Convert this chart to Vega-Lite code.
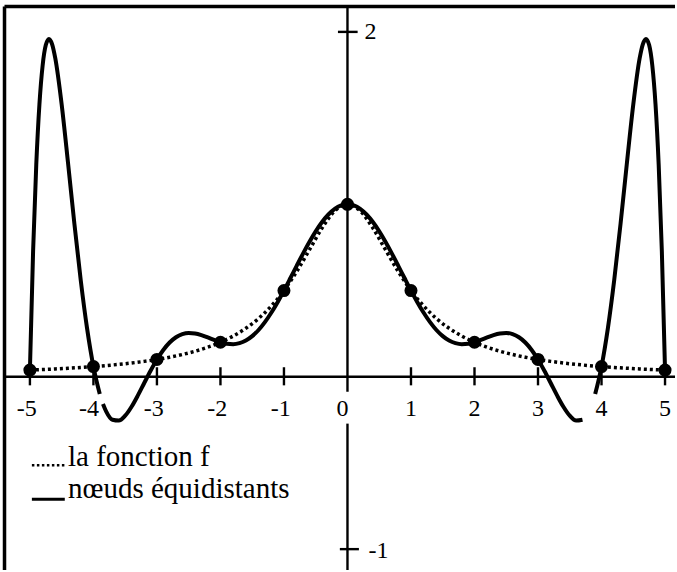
{
  "$schema": "https://vega.github.io/schema/vega-lite/v6.json",
  "width": 677,
  "height": 572,
  "padding": 0,
  "autosize": {"type": "fit", "contains": "padding"},
  "background": "white",
  "config": {"view": {"stroke": null}},
  "datasets": {
    "f": [
      {"x": -5, "y": 0.0385}, {"x": -4.8, "y": 0.0416}, {"x": -4.6, "y": 0.0451}, {"x": -4.4, "y": 0.0491}, {"x": -4.2, "y": 0.0536},
      {"x": -4, "y": 0.0588}, {"x": -3.8, "y": 0.0648}, {"x": -3.6, "y": 0.0716}, {"x": -3.4, "y": 0.0796}, {"x": -3.2, "y": 0.089},
      {"x": -3, "y": 0.1}, {"x": -2.8, "y": 0.1131}, {"x": -2.6, "y": 0.1289}, {"x": -2.4, "y": 0.1479}, {"x": -2.2, "y": 0.1712},
      {"x": -2, "y": 0.2}, {"x": -1.8, "y": 0.2358}, {"x": -1.6, "y": 0.2809}, {"x": -1.4, "y": 0.3378}, {"x": -1.2, "y": 0.4098},
      {"x": -1, "y": 0.5}, {"x": -0.8, "y": 0.6098}, {"x": -0.6, "y": 0.7353}, {"x": -0.4, "y": 0.8621}, {"x": -0.2, "y": 0.9615},
      {"x": 0, "y": 1},
      {"x": 0.2, "y": 0.9615}, {"x": 0.4, "y": 0.8621}, {"x": 0.6, "y": 0.7353}, {"x": 0.8, "y": 0.6098}, {"x": 1, "y": 0.5},
      {"x": 1.2, "y": 0.4098}, {"x": 1.4, "y": 0.3378}, {"x": 1.6, "y": 0.2809}, {"x": 1.8, "y": 0.2358}, {"x": 2, "y": 0.2},
      {"x": 2.2, "y": 0.1712}, {"x": 2.4, "y": 0.1479}, {"x": 2.6, "y": 0.1289}, {"x": 2.8, "y": 0.1131}, {"x": 3, "y": 0.1},
      {"x": 3.2, "y": 0.089}, {"x": 3.4, "y": 0.0796}, {"x": 3.6, "y": 0.0716}, {"x": 3.8, "y": 0.0648}, {"x": 4, "y": 0.0588},
      {"x": 4.2, "y": 0.0536}, {"x": 4.4, "y": 0.0491}, {"x": 4.6, "y": 0.0451}, {"x": 4.8, "y": 0.0416}, {"x": 5, "y": 0.0385}
    ],
    "p": [
      {"seg": "a", "x": -5, "y": 0.0385}, {"seg": "a", "x": -4.95, "y": 0.7261}, {"seg": "a", "x": -4.9, "y": 1.2304},
      {"seg": "a", "x": -4.85, "y": 1.581}, {"seg": "a", "x": -4.8, "y": 1.8044}, {"seg": "a", "x": -4.75, "y": 1.9236},
      {"seg": "a", "x": -4.7, "y": 1.959}, {"seg": "a", "x": -4.65, "y": 1.928}, {"seg": "a", "x": -4.6, "y": 1.8459},
      {"seg": "a", "x": -4.5, "y": 1.5787}, {"seg": "a", "x": -4.4, "y": 1.2402}, {"seg": "a", "x": -4.3, "y": 0.8881},
      {"seg": "a", "x": -4.2, "y": 0.5604}, {"seg": "a", "x": -4.1, "y": 0.2802}, {"seg": "a", "x": -4, "y": 0.0588},
      {"seg": "a", "x": -3.9, "y": -0.1007},
      {"seg": "b", "x": -3.85, "y": -0.158}, {"seg": "b", "x": -3.8, "y": -0.2013}, {"seg": "b", "x": -3.7, "y": -0.2496},
      {"seg": "b", "x": -3.6, "y": -0.2546}, {"seg": "b", "x": -3.5, "y": -0.2262}, {"seg": "b", "x": -3.4, "y": -0.1743},
      {"seg": "b", "x": -3.3, "y": -0.1083}, {"seg": "b", "x": -3.2, "y": -0.0363}, {"seg": "b", "x": -3.1, "y": 0.0349},
      {"seg": "b", "x": -3, "y": 0.1}, {"seg": "b", "x": -2.9, "y": 0.1554}, {"seg": "b", "x": -2.8, "y": 0.1987},
      {"seg": "b", "x": -2.7, "y": 0.2292}, {"seg": "b", "x": -2.6, "y": 0.2472}, {"seg": "b", "x": -2.5, "y": 0.2538},
      {"seg": "b", "x": -2.4, "y": 0.251}, {"seg": "b", "x": -2.3, "y": 0.2415}, {"seg": "b", "x": -2.2, "y": 0.2278},
      {"seg": "b", "x": -2.1, "y": 0.2131}, {"seg": "b", "x": -2, "y": 0.2}, {"seg": "b", "x": -1.9, "y": 0.1912},
      {"seg": "b", "x": -1.8, "y": 0.1888}, {"seg": "b", "x": -1.7, "y": 0.1946}, {"seg": "b", "x": -1.6, "y": 0.2099},
      {"seg": "b", "x": -1.5, "y": 0.2353}, {"seg": "b", "x": -1.4, "y": 0.271}, {"seg": "b", "x": -1.3, "y": 0.3165},
      {"seg": "b", "x": -1.2, "y": 0.3708}, {"seg": "b", "x": -1.1, "y": 0.4326}, {"seg": "b", "x": -1, "y": 0.5},
      {"seg": "b", "x": -0.9, "y": 0.571}, {"seg": "b", "x": -0.8, "y": 0.6432}, {"seg": "b", "x": -0.7, "y": 0.7142},
      {"seg": "b", "x": -0.6, "y": 0.7818}, {"seg": "b", "x": -0.5, "y": 0.8434}, {"seg": "b", "x": -0.4, "y": 0.8971},
      {"seg": "b", "x": -0.3, "y": 0.9409}, {"seg": "b", "x": -0.2, "y": 0.9734}, {"seg": "b", "x": -0.1, "y": 0.9933},
      {"seg": "b", "x": 0, "y": 1},
      {"seg": "b", "x": 0.1, "y": 0.9933}, {"seg": "b", "x": 0.2, "y": 0.9734}, {"seg": "b", "x": 0.3, "y": 0.9409},
      {"seg": "b", "x": 0.4, "y": 0.8971}, {"seg": "b", "x": 0.5, "y": 0.8434}, {"seg": "b", "x": 0.6, "y": 0.7818},
      {"seg": "b", "x": 0.7, "y": 0.7142}, {"seg": "b", "x": 0.8, "y": 0.6432}, {"seg": "b", "x": 0.9, "y": 0.571},
      {"seg": "b", "x": 1, "y": 0.5}, {"seg": "b", "x": 1.1, "y": 0.4326}, {"seg": "b", "x": 1.2, "y": 0.3708},
      {"seg": "b", "x": 1.3, "y": 0.3165}, {"seg": "b", "x": 1.4, "y": 0.271}, {"seg": "b", "x": 1.5, "y": 0.2353},
      {"seg": "b", "x": 1.6, "y": 0.2099}, {"seg": "b", "x": 1.7, "y": 0.1946}, {"seg": "b", "x": 1.8, "y": 0.1888},
      {"seg": "b", "x": 1.9, "y": 0.1912}, {"seg": "b", "x": 2, "y": 0.2}, {"seg": "b", "x": 2.1, "y": 0.2131},
      {"seg": "b", "x": 2.2, "y": 0.2278}, {"seg": "b", "x": 2.3, "y": 0.2415}, {"seg": "b", "x": 2.4, "y": 0.251},
      {"seg": "b", "x": 2.5, "y": 0.2538}, {"seg": "b", "x": 2.6, "y": 0.2472}, {"seg": "b", "x": 2.7, "y": 0.2292},
      {"seg": "b", "x": 2.8, "y": 0.1987}, {"seg": "b", "x": 2.9, "y": 0.1554}, {"seg": "b", "x": 3, "y": 0.1},
      {"seg": "b", "x": 3.1, "y": 0.0349}, {"seg": "b", "x": 3.2, "y": -0.0363}, {"seg": "b", "x": 3.3, "y": -0.1083},
      {"seg": "b", "x": 3.4, "y": -0.1743}, {"seg": "b", "x": 3.5, "y": -0.2262}, {"seg": "b", "x": 3.6, "y": -0.2546},
      {"seg": "b", "x": 3.7, "y": -0.2496},
      {"seg": "c", "x": 3.9, "y": -0.1007}, {"seg": "c", "x": 4, "y": 0.0588}, {"seg": "c", "x": 4.1, "y": 0.2802},
      {"seg": "c", "x": 4.2, "y": 0.5604}, {"seg": "c", "x": 4.3, "y": 0.8881}, {"seg": "c", "x": 4.4, "y": 1.2402},
      {"seg": "c", "x": 4.5, "y": 1.5787}, {"seg": "c", "x": 4.6, "y": 1.8459}, {"seg": "c", "x": 4.65, "y": 1.928},
      {"seg": "c", "x": 4.7, "y": 1.959}, {"seg": "c", "x": 4.75, "y": 1.9236}, {"seg": "c", "x": 4.8, "y": 1.8044},
      {"seg": "c", "x": 4.85, "y": 1.581}, {"seg": "c", "x": 4.9, "y": 1.2304}, {"seg": "c", "x": 4.95, "y": 0.7261},
      {"seg": "c", "x": 5, "y": 0.0385}
    ],
    "nodes": [
      {"x": -5, "y": 0.0385}, {"x": -4, "y": 0.0588}, {"x": -3, "y": 0.1}, {"x": -2, "y": 0.2}, {"x": -1, "y": 0.5},
      {"x": 0, "y": 1}, {"x": 1, "y": 0.5}, {"x": 2, "y": 0.2}, {"x": 3, "y": 0.1}, {"x": 4, "y": 0.0588}, {"x": 5, "y": 0.0385}
    ],
    "frame": [
      {"x": -5.4, "x2": -5.4, "y": -1.121, "y2": 2.147},
      {"x": -5.4, "x2": 5.157, "y": 2.147, "y2": 2.147}
    ],
    "axes": [
      {"x": -5.4, "x2": 5.157, "y": 0, "y2": 0},
      {"x": 0, "x2": 0, "y": 2.147, "y2": -0.087},
      {"x": 0, "x2": 0, "y": -0.272, "y2": -1.121}
    ],
    "ticks": [
      {"x": -5, "x2": -5, "y": 0.055, "y2": -0.05}, {"x": -4, "x2": -4, "y": 0.055, "y2": -0.05},
      {"x": -3, "x2": -3, "y": 0.055, "y2": -0.05}, {"x": -2, "x2": -2, "y": 0.055, "y2": -0.05},
      {"x": -1, "x2": -1, "y": 0.055, "y2": -0.05}, {"x": 1, "x2": 1, "y": 0.055, "y2": -0.05},
      {"x": 2, "x2": 2, "y": 0.055, "y2": -0.05}, {"x": 3, "x2": 3, "y": 0.055, "y2": -0.05},
      {"x": 4, "x2": 4, "y": 0.055, "y2": -0.05}, {"x": 5, "x2": 5, "y": 0.055, "y2": -0.05},
      {"x": -0.15, "x2": 0.16, "y": 2, "y2": 2}, {"x": -0.12, "x2": 0.18, "y": -1, "y2": -1}
    ],
    "xlabels": [
      {"x": -5.05, "t": "-5"}, {"x": -4.07, "t": "-4"}, {"x": -3.05, "t": "-3"}, {"x": -2.05, "t": "-2"}, {"x": -1.05, "t": "-1"},
      {"x": -0.08, "t": "0"}, {"x": 1, "t": "1"}, {"x": 2, "t": "2"}, {"x": 3, "t": "3"}, {"x": 4, "t": "4"}, {"x": 5, "t": "5"}
    ],
    "ylabels": [
      {"x": 0.27, "y": 2, "t": "2"}, {"x": 0.33, "y": -1.01, "t": "-1"}
    ],
    "legendtext": [
      {"x": -4.4, "y": -0.52, "t": "la fonction f"},
      {"x": -4.4, "y": -0.705, "t": "nœuds équidistants"}
    ],
    "legenddot": [{"x": -4.969, "x2": -4.451, "y": -0.514}],
    "legendsolid": [{"x": -4.969, "x2": -4.451, "y": -0.711}]
  },
  "layer": [
    {
      "data": {"name": "frame"},
      "mark": {"type": "rule", "color": "black", "strokeWidth": 3.5},
      "encoding": {
        "x": {"field": "x", "type": "quantitative", "scale": {"domain": [-5.471, 5.157], "nice": false, "zero": false}, "axis": null},
        "x2": {"field": "x2"},
        "y": {"field": "y", "type": "quantitative", "scale": {"domain": [-1.121, 2.185], "nice": false, "zero": false}, "axis": null},
        "y2": {"field": "y2"}
      }
    },
    {
      "data": {"name": "axes"},
      "mark": {"type": "rule", "color": "black", "strokeWidth": 2.4},
      "encoding": {
        "x": {"field": "x", "type": "quantitative"},
        "x2": {"field": "x2"},
        "y": {"field": "y", "type": "quantitative"},
        "y2": {"field": "y2"}
      }
    },
    {
      "data": {"name": "ticks"},
      "mark": {"type": "rule", "color": "black", "strokeWidth": 2.4},
      "encoding": {
        "x": {"field": "x", "type": "quantitative"},
        "x2": {"field": "x2"},
        "y": {"field": "y", "type": "quantitative"},
        "y2": {"field": "y2"}
      }
    },
    {
      "data": {"name": "f"},
      "mark": {"type": "line", "color": "black", "strokeWidth": 3.5, "strokeDash": [3, 3], "interpolate": "monotone"},
      "encoding": {
        "x": {"field": "x", "type": "quantitative"},
        "y": {"field": "y", "type": "quantitative"}
      }
    },
    {
      "data": {"name": "p"},
      "mark": {"type": "line", "color": "black", "strokeWidth": 4, "interpolate": "monotone"},
      "encoding": {
        "x": {"field": "x", "type": "quantitative"},
        "y": {"field": "y", "type": "quantitative"},
        "detail": {"field": "seg"}
      }
    },
    {
      "data": {"name": "nodes"},
      "mark": {"type": "point", "shape": "circle", "filled": true, "color": "black", "opacity": 1, "size": 170},
      "encoding": {
        "x": {"field": "x", "type": "quantitative"},
        "y": {"field": "y", "type": "quantitative"}
      }
    },
    {
      "data": {"name": "xlabels"},
      "mark": {"type": "text", "font": "Liberation Serif", "fontSize": 24, "align": "center", "baseline": "middle", "color": "black"},
      "encoding": {
        "x": {"field": "x", "type": "quantitative"},
        "y": {"datum": -0.185, "type": "quantitative"},
        "text": {"field": "t"}
      }
    },
    {
      "data": {"name": "ylabels"},
      "mark": {"type": "text", "font": "Liberation Serif", "fontSize": 24, "align": "left", "baseline": "middle", "color": "black"},
      "encoding": {
        "x": {"field": "x", "type": "quantitative"},
        "y": {"field": "y", "type": "quantitative"},
        "text": {"field": "t"}
      }
    },
    {
      "data": {"name": "legendtext"},
      "mark": {"type": "text", "font": "Liberation Serif", "fontSize": 29, "align": "left", "baseline": "alphabetic", "color": "black"},
      "encoding": {
        "x": {"field": "x", "type": "quantitative"},
        "y": {"field": "y", "type": "quantitative"},
        "text": {"field": "t"}
      }
    },
    {
      "data": {"name": "legenddot"},
      "mark": {"type": "rule", "color": "black", "strokeWidth": 2.5, "strokeDash": [2.5, 2.5]},
      "encoding": {
        "x": {"field": "x", "type": "quantitative"},
        "x2": {"field": "x2"},
        "y": {"field": "y", "type": "quantitative"}
      }
    },
    {
      "data": {"name": "legendsolid"},
      "mark": {"type": "rule", "color": "black", "strokeWidth": 3},
      "encoding": {
        "x": {"field": "x", "type": "quantitative"},
        "x2": {"field": "x2"},
        "y": {"field": "y", "type": "quantitative"}
      }
    }
  ]
}
